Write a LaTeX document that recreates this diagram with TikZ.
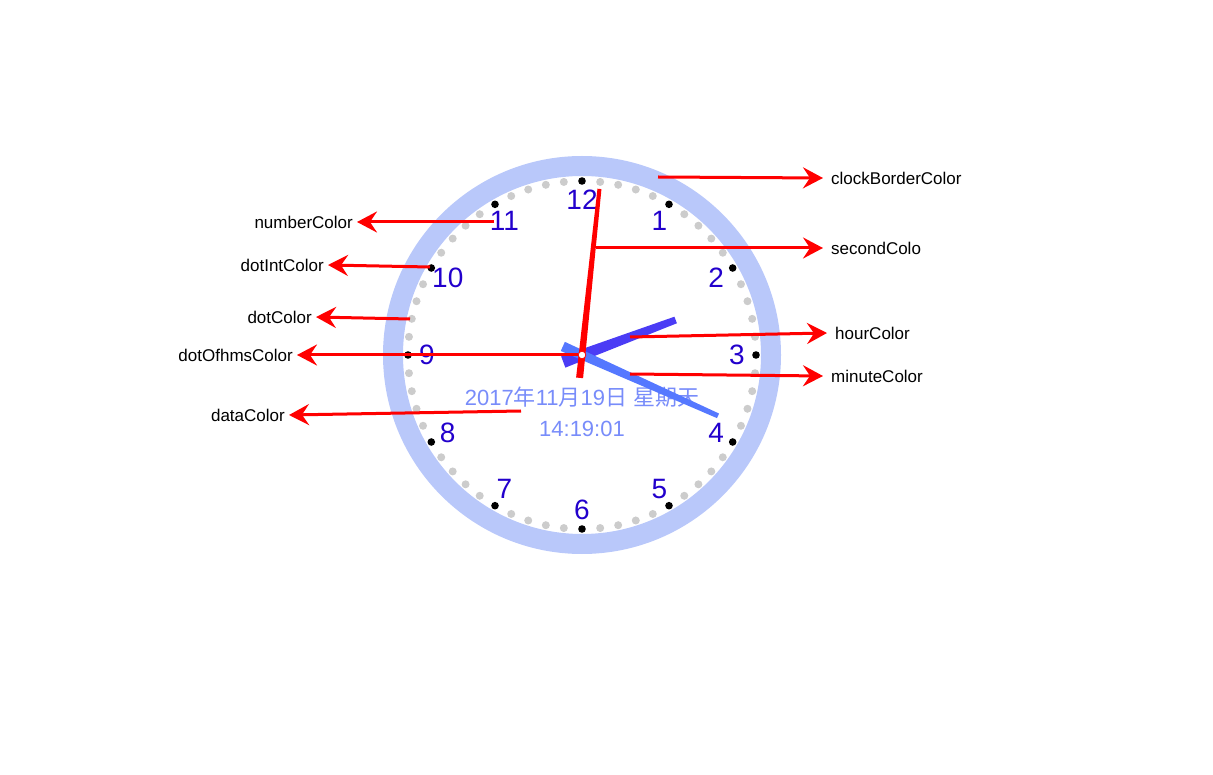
\documentclass[tikz,border=0pt]{standalone}
\usepackage{fontspec}
\setmainfont{Liberation Sans}
\newfontfamily\cjk{Noto Sans CJK SC}
\usepackage{xcolor}
\usetikzlibrary{arrows.meta,positioning,calc}

\definecolor{rimblue}{RGB}{185,200,250}
\definecolor{numblue}{RGB}{34,0,204}
\definecolor{hourblue}{RGB}{75,60,245}
\definecolor{minblue}{RGB}{85,120,255}
\definecolor{dateblue}{RGB}{120,140,250}
\definecolor{dotgray}{RGB}{204,204,204}

\begin{document}
\begin{tikzpicture}[
  x=1pt,y=-1pt,font=\fontsize{17}{20}\selectfont,
  >={Stealth[length=20pt,width=21pt,inset=7pt]},
  arr/.style={->,red,line width=3pt},
  lblR/.style={anchor=west,inner xsep=8pt,inner ysep=0pt},
  lblL/.style={anchor=east,inner xsep=4pt,inner ysep=0pt},
  num/.style={numblue,inner sep=0pt,font=\fontsize{28}{30}\selectfont},
  date/.style={dateblue,inner sep=0pt,anchor=base,font=\fontsize{22}{24}\selectfont}
]
\useasboundingbox (0,0) rectangle (1213,775);
\coordinate (c) at (582,355);
% clock face
\draw[rimblue,line width=20pt] (c) circle (189pt);
\foreach \i in {0,...,59}{
  \pgfmathtruncatemacro\m{mod(\i,5)}
  \ifnum\m=0
    \fill[black] (c) ++(6*\i-90:174) circle (3.8pt);
  \else
    \fill[dotgray] (c) ++(6*\i-90:174) circle (4pt);
  \fi
}
\foreach \n in {1,...,12}
  \path (c) ++(30*\n-90:155) node[num] (n\n) {\n};
\node[date] (day) at (582,406) {2017{\cjk 年}11{\cjk 月}19{\cjk 日} {\cjk 星期天}};
\node[date] (tm) at (582,437) {14:19:01};
% hands
\fill[hourblue] ($(c)+(159.5:20)+(69.5:6)$) -- ($(c)+(-20.5:100)+(69.5:3.5)$)
  -- ($(c)+(-20.5:100)+(-110.5:3.5)$) -- ($(c)+(159.5:20)+(-110.5:6)$) -- cycle;
\fill[minblue] ($(c)+(204.1:21)+(114.1:5)$) -- ($(c)+(24.1:149)+(114.1:2.5)$)
  -- ($(c)+(24.1:149)+(-65.9:2.5)$) -- ($(c)+(204.1:21)+(-65.9:5)$) -- cycle;
\fill[red] ($(c)+(96:23)+(6:3.5)$) -- ($(c)+(-84:167)+(6:2)$)
  -- ($(c)+(-84:167)+(186:2)$) -- ($(c)+(96:23)+(186:3.5)$) -- cycle;
\filldraw[fill=white,draw=red,line width=0.8pt] (c) circle (3.8pt);
% labels
\node[lblR] (lBorder) at (823,178) {clockBorderColor};
\node[lblR] (lSecond) at (823,248) {secondColo};
\node[lblR] (lHour) at (827,333) {hourColor};
\node[lblR] (lMinute) at (823,376) {minuteColor};
\node[lblL] (lNumber) at (357,222) {numberColor};
\node[lblL] (lDotInt) at (328,265) {dotIntColor};
\node[lblL] (lDot) at (316,317) {dotColor};
\node[lblL] (lHms) at (297,355) {dotOfhmsColor};
\node[lblL] (lDate) at (289,415) {dataColor};
% arrow starts
\coordinate (pBorder) at (658,177);
\coordinate (pSecond) at (596,248);
\coordinate (pHour) at (630,337);
\coordinate (pMinute) at (630,374);
\coordinate (pNumber) at (494,222);
\coordinate (pDotInt) at (430,267);
\coordinate (pDot) at (410,319);
\coordinate (pHms) at (578,355);
\coordinate (pDate) at (521,411);
\draw[arr] (pBorder) -- (lBorder.west);
\draw[arr] (pSecond) -- (lSecond.west);
\draw[arr] (pHour) -- (lHour.west);
\draw[arr] (pMinute) -- (lMinute.west);
\draw[arr] (pNumber) -- (lNumber.east);
\draw[arr] (pDotInt) -- (lDotInt.east);
\draw[arr] (pDot) -- (lDot.east);
\draw[arr] (pHms) -- (lHms.east);
\draw[arr] (pDate) -- (lDate.east);
\end{tikzpicture}
\end{document}
